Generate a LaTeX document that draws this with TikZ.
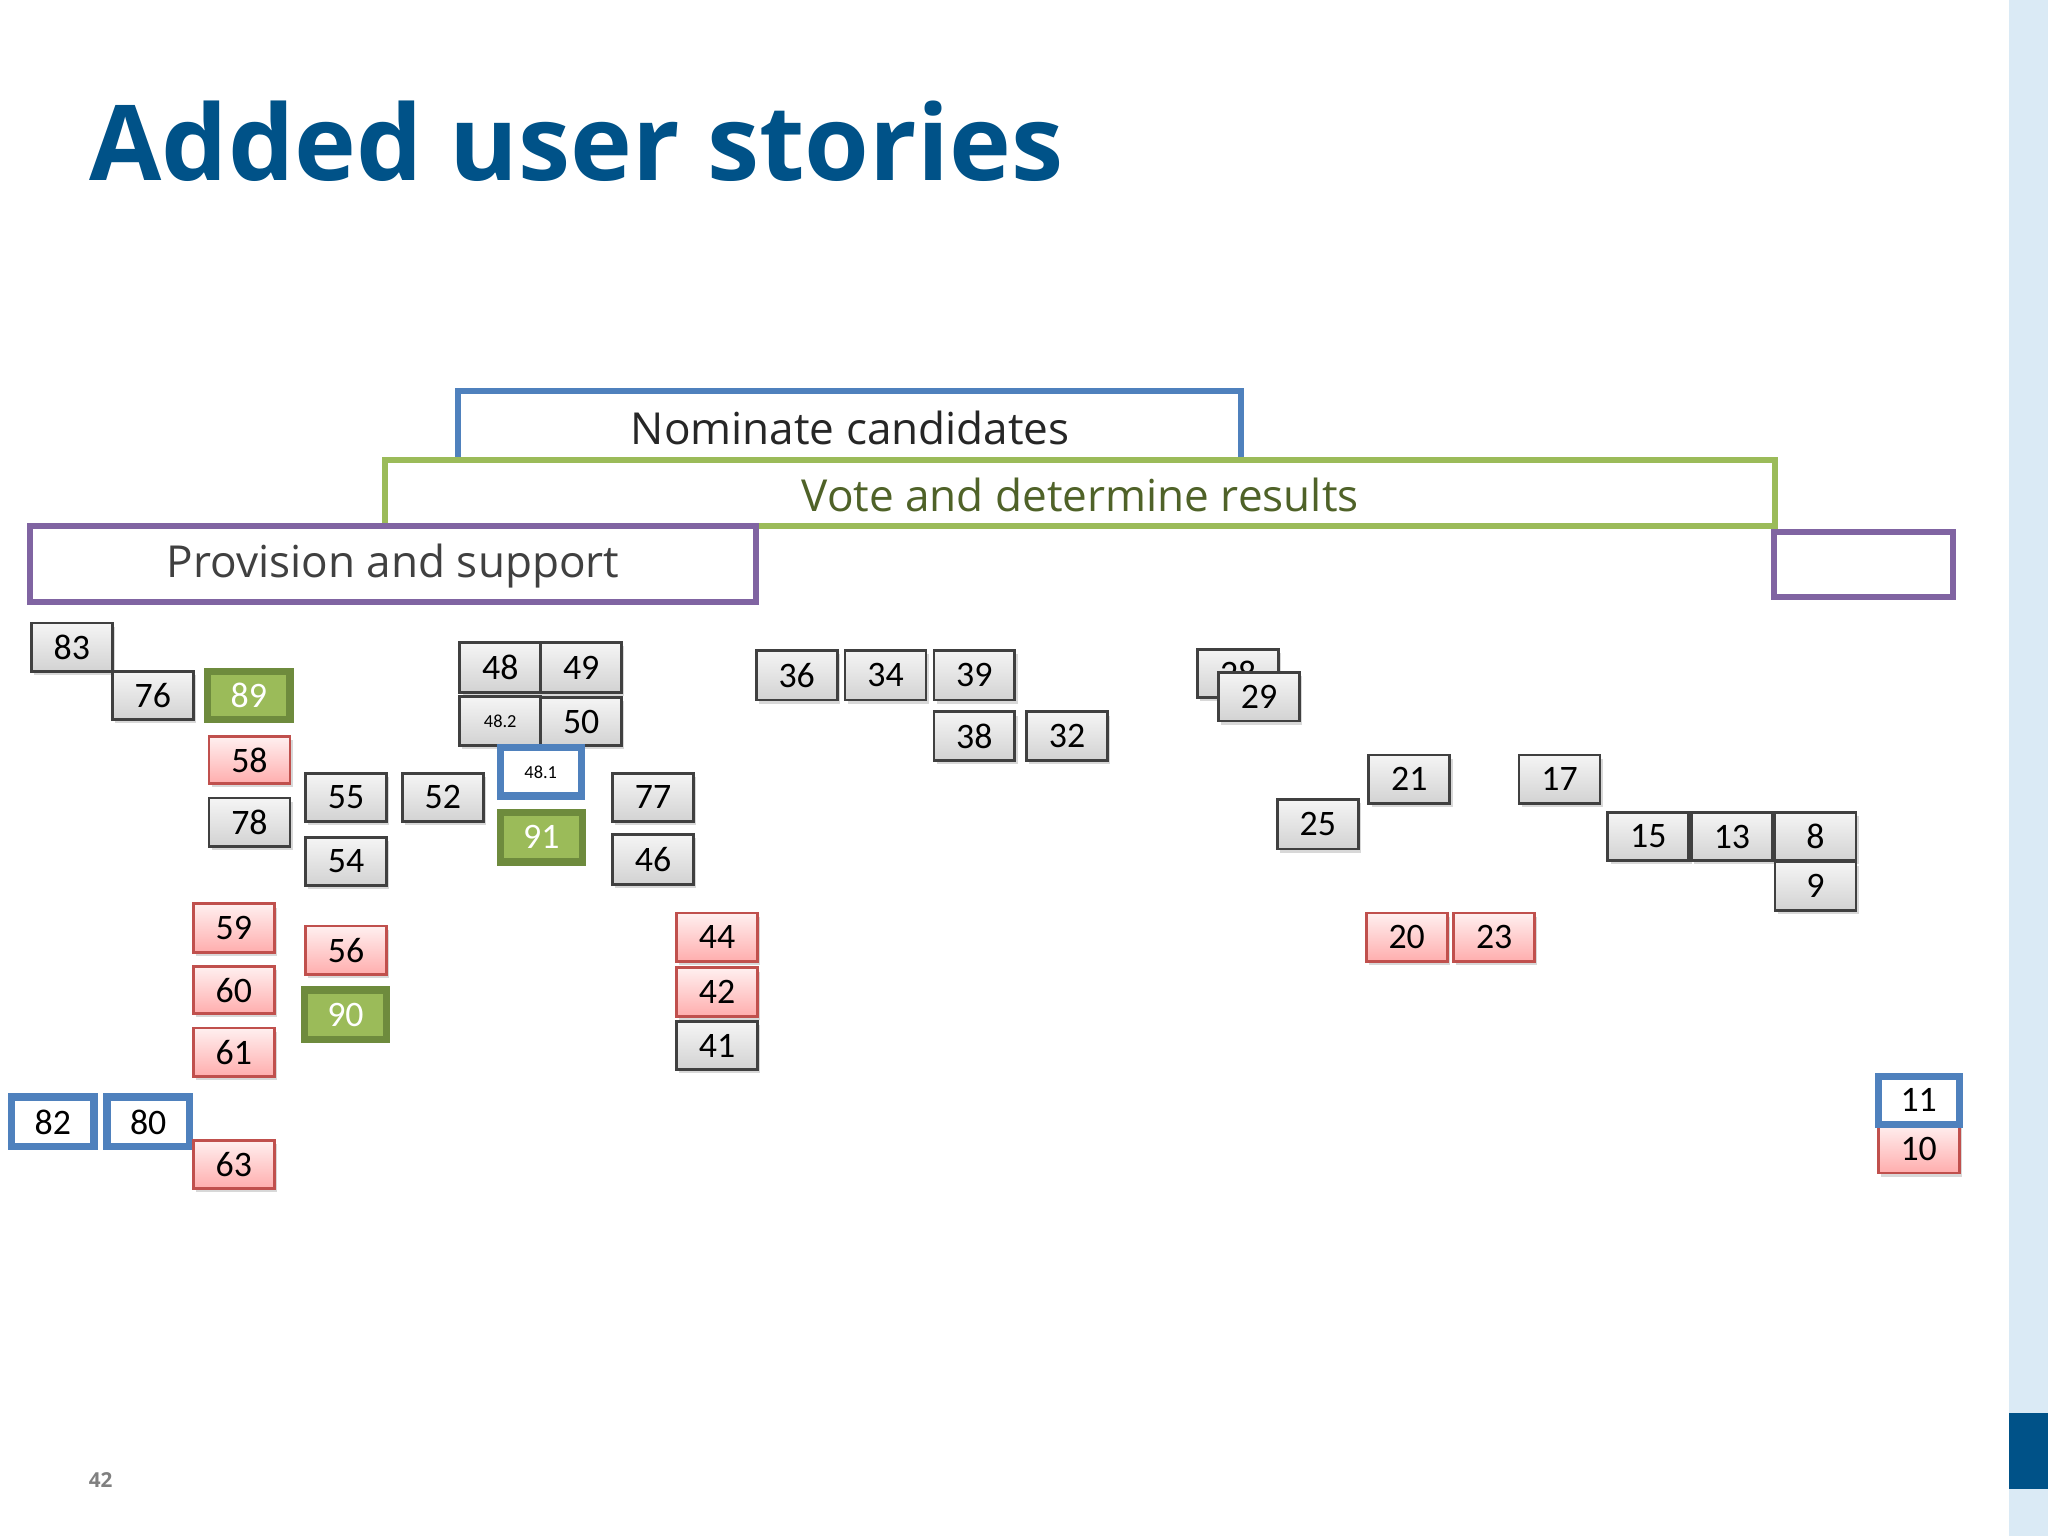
\documentclass[tikz,border=0pt]{standalone}
\usepackage{fontspec}
\setmainfont{Carlito}
\newfontfamily\osans{Open Sans}
\usetikzlibrary{shadows}
\definecolor{ttl}{HTML}{005288}
\definecolor{bblue}{HTML}{4F81BD}
\definecolor{bgreen}{HTML}{9BBB59}
\definecolor{dgreen}{HTML}{6E8B3D}
\definecolor{olive}{HTML}{4F6228}
\definecolor{bpurp}{HTML}{8064A2}
\definecolor{strip}{HTML}{DAEAF5}
\definecolor{pinkb}{HTML}{C0504D}
\tikzset{
 x=0.01cm,y=-0.01cm,
 base/.style={inner sep=0pt,font=\fontsize{8}{8}\selectfont},
 gray/.style={base,top color=gray!8,bottom color=gray!35,draw=black!75,line width=0.6pt,drop shadow={opacity=0.3,shadow xshift=0.6pt,shadow yshift=-0.8pt}},
 pink/.style={base,top color=red!6,bottom color=red!32,draw=pinkb,line width=0.6pt,drop shadow={opacity=0.3,shadow xshift=0.6pt,shadow yshift=-0.8pt}},
 green/.style={base,fill=bgreen,draw=dgreen,line width=1.6pt,text=white},
 blue/.style={base,fill=white,draw=bblue,line width=1.6pt},
 banner/.style={line width=1.3pt},
 btext/.style={font=\osans\fontsize{9.6}{9.6}\selectfont,inner sep=0pt}
}
\newcommand\B[6]{\node[#5,minimum width={(#3-#1)*0.01cm},minimum height={(#4-#2)*0.01cm},font=\fontsize{7.8}{8}\selectfont] (n#6) at ({(#1+#3)/2},{(#2+#4)/2}) {#6};}
\begin{document}
\begin{tikzpicture}
\useasboundingbox (0,0) rectangle (1568,1176);
\fill[white] (0,0) rectangle (1568,1176);
\fill[strip] (1538,0) rectangle (1568,1176);
\fill[ttl] (1538,1082) rectangle (1568,1140);
\node[anchor=west,inner sep=0pt,text=ttl,font=\osans\bfseries\fontsize{22.8}{23}\selectfont] (title) at (68,108) {Added user stories};
\node[inner sep=0pt,text=gray,font=\osans\bfseries\fontsize{4.5}{5}\selectfont] (pg) at (77,1133) {42};
% banners
\draw[banner,draw=bblue] (351,352) |- (950,299) -- (950,352);
\node[btext,text=black!85] (nom) at (651,328) {Nominate candidates};
\draw[banner,draw=bgreen,fill=white] (295,352) rectangle (1359,403);
\node[btext,text=olive] (vote) at (827,379) {Vote and determine results};
\draw[banner,draw=bpurp,fill=white] (23,403) rectangle (579,461);
\node[btext,text=black!75] (prov) at (301,433) {Provision and support};
\draw[banner,draw=bpurp] (1358,407) rectangle (1495,457);
% boxes
\B{24}{477}{86}{514}{gray}{83}
\B{86}{514}{148}{551}{gray}{76}
\B{159}{514}{222}{551}{green}{89}
\B{160}{564}{222}{600}{pink}{58}
\B{160}{611}{222}{648}{gray}{78}
\B{234}{592}{296}{629}{gray}{55}
\B{234}{641}{296}{678}{gray}{54}
\B{308}{592}{370}{629}{gray}{52}
\B{352}{492}{414}{530}{gray}{48}
\B{414}{492}{476}{530}{gray}{49}
\node[gray,minimum width=0.62cm,minimum height=0.37cm,font=\fontsize{4}{4}\selectfont] (n48.2) at (383,552) {48.2};
\B{414}{534}{476}{571}{gray}{50}
\node[blue,minimum width=0.62cm,minimum height=0.37cm,font=\fontsize{4}{4}\selectfont] (n48.1) at (414,591) {48.1};
\B{383}{622}{446}{660}{green}{91}
\B{469}{592}{531}{629}{gray}{77}
\B{469}{639}{531}{677}{gray}{46}
\B{579}{498}{641}{536}{gray}{36}
\B{647}{498}{709}{536}{gray}{34}
\B{715}{498}{777}{536}{gray}{39}
\B{715}{545}{777}{582}{gray}{38}
\B{786}{545}{848}{582}{gray}{32}
\B{917}{497}{979}{534}{gray}{28}
\B{933}{515}{995}{552}{gray}{29}
\B{1048}{578}{1110}{615}{gray}{21}
\B{978}{612}{1040}{650}{gray}{25}
\B{1163}{578}{1225}{615}{gray}{17}
\B{1231}{622}{1293}{659}{gray}{15}
\B{1295}{622}{1357}{659}{gray}{13}
\B{1359}{622}{1421}{659}{gray}{8}
\B{1359}{660}{1421}{697}{gray}{9}
\B{148}{692}{210}{729}{pink}{59}
\B{148}{740}{210}{776}{pink}{60}
\B{148}{787}{210}{824}{pink}{61}
\B{234}{709}{296}{746}{pink}{56}
\B{233}{758}{296}{796}{green}{90}
\B{518}{699}{580}{736}{pink}{44}
\B{518}{741}{580}{778}{pink}{42}
\B{518}{782}{580}{819}{gray}{41}
\B{1046}{699}{1108}{736}{pink}{20}
\B{1113}{699}{1175}{736}{pink}{23}
\B{9}{840}{72}{878}{blue}{82}
\B{82}{840}{145}{878}{blue}{80}
\B{148}{873}{210}{910}{pink}{63}
\B{1438}{861}{1500}{898}{pink}{10}
\B{1438}{824}{1500}{861}{blue}{11}
\end{tikzpicture}
\end{document}
